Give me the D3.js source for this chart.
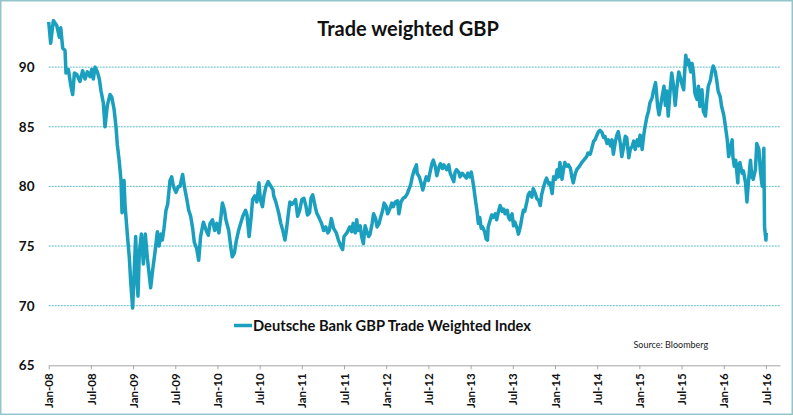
<!DOCTYPE html>
<html>
<head>
<meta charset="utf-8">
<script src="https://cdnjs.cloudflare.com/ajax/libs/d3/7.8.5/d3.min.js"></script>
<style>
  body {margin: 0; background: #fff;}
  svg {display: block; font-family: Lato, 'Open Sans', sans-serif;}
</style>
</head>
<body>
<svg id="chart" width="793" height="416"></svg>
<script>
// chart text
var title = 'Trade weighted GBP';
var seriesName = 'Deutsche Bank GBP Trade Weighted Index';
var source = 'Source: Bloomberg';

// axis ticks
var yTicks = [65, 70, 75, 80, 85, 90];
var xTickLabels = ['Jan-08', 'Jul-08', 'Jan-09', 'Jul-09', 'Jan-10', 'Jul-10', 'Jan-11', 'Jul-11', 'Jan-12',
  'Jul-12', 'Jan-13', 'Jul-13', 'Jan-14', 'Jul-14', 'Jan-15', 'Jul-15', 'Jan-16', 'Jul-16'];

// months since Jan-08
var months = [
  0, 0.28, 0.66, 1.14, 1.52, 1.71, 1.99, 2.32, 2.46, 2.8, 3.13, 3.41, 3.65, 3.98, 4.45, 4.83, 5.17, 5.5, 5.88,
  6.11, 6.35, 6.59, 6.92, 7.2, 7.44, 7.77, 8.01, 8.34, 8.72, 8.96, 9.29, 9.57, 9.76, 10.05, 10.28, 10.43, 10.71,
  10.85, 11.18, 11.47, 11.66, 11.94,
  12.18, 12.37, 12.56, 12.7, 12.89, 13.18, 13.46, 13.74, 14.03, 14.31, 14.5, 14.79, 15.12, 15.45, 15.69, 15.97,
  16.16, 16.4, 16.68, 16.92, 17.25, 17.49, 17.73, 18.1, 18.44, 18.67, 19.05, 19.29, 19.62, 19.91, 20.19, 20.47,
  20.71, 21.04, 21.33, 21.6, 22.0, 22.4, 22.7, 22.95, 23.3, 23.6, 23.9,
  24.2, 24.5, 24.7, 25.0, 25.2, 25.6, 25.9, 26.1, 26.4, 26.7, 27.0, 27.3, 27.6, 28.0, 28.2, 28.5, 28.8, 29.0,
  29.3, 29.6, 29.9, 30.1, 30.4, 30.6, 30.9, 31.2, 31.5, 31.9, 32.0, 32.3, 32.7, 33.0, 33.3, 33.6, 33.8, 34.1,
  34.3, 34.6, 34.9, 35.1, 35.4, 35.7,
  36.0, 36.3, 36.6, 36.8, 37.1, 37.3, 37.55, 37.9, 38.1, 38.5, 38.8, 39.1, 39.4, 39.7, 39.9, 40.2, 40.5, 40.9,
  41.2, 41.6, 41.8, 42.0, 42.4, 42.8, 43.1, 43.3, 43.6, 43.8, 44.0, 44.3, 44.5, 44.75, 45.0, 45.2, 45.5, 45.7,
  46.0, 46.2, 46.5, 46.7, 47.0, 47.2, 47.5, 47.7,
  48.0, 48.2, 48.5, 48.8, 49.0, 49.3, 49.6, 49.8, 50.1, 50.4, 50.7, 51.0, 51.2, 51.5, 51.7, 52.0, 52.3, 52.4,
  52.7, 53.0, 53.2, 53.5, 53.7, 54.0, 54.2, 54.5, 54.7, 55.0, 55.2, 55.5, 55.7, 56.0, 56.2, 56.4, 56.6, 56.9,
  57.1, 57.4, 57.6, 57.8, 58.0, 58.3, 58.5, 58.8, 59.1, 59.4, 59.6, 59.9,
  60.1, 60.3, 60.5, 60.7, 60.9, 61.1, 61.3, 61.5, 61.7, 62.0, 62.2, 62.4, 62.5, 62.8, 63.0, 63.2, 63.5, 63.7,
  64.0, 64.2, 64.5, 64.7, 64.9, 65.2, 65.4, 65.6, 65.9, 66.1, 66.3, 66.6, 66.8, 67.1, 67.3, 67.5, 67.7, 68.0,
  68.2, 68.4, 68.7, 68.9, 69.2, 69.4, 69.7, 69.9, 70.1, 70.4, 70.6, 70.8, 71.1, 71.3, 71.6, 71.8,
  72.1, 72.3, 72.5, 72.7, 73.0, 73.2, 73.4, 73.7, 73.9, 74.2, 74.4, 74.6, 74.9, 75.1, 75.5, 75.8, 76.1, 76.5,
  76.7, 77.0, 77.2, 77.5, 77.7, 77.9, 78.2, 78.4, 78.7, 78.9, 79.1, 79.4, 79.6, 79.9, 80.1, 80.3, 80.6, 80.8,
  81.0, 81.3, 81.5, 81.7, 82.0, 82.2, 82.5, 82.7, 83.0, 83.2, 83.4, 83.7, 83.9,
  84.1, 84.4, 84.6, 84.8, 85.1, 85.3, 85.5, 85.8, 86.0, 86.3, 86.4, 86.6, 86.8, 87.0, 87.2, 87.5, 87.7, 87.9,
  88.1, 88.4, 88.6, 88.8, 89.1, 89.3, 89.6, 89.8, 90.0, 90.3, 90.4, 90.6, 90.8, 91.0, 91.3, 91.5, 91.7, 91.9,
  92.2, 92.4, 92.6, 92.9, 93.1, 93.4, 93.6, 93.8, 94.1, 94.3, 94.5, 94.8, 95.0, 95.2, 95.5, 95.7,
  96.0, 96.2, 96.5, 96.7, 97.0, 97.2, 97.3, 97.5, 97.7, 98.0, 98.1, 98.3, 98.6, 98.8, 99.1, 99.3, 99.5, 99.8,
  100.0, 100.2, 100.5, 100.7, 101.0, 101.2, 101.4, 101.5, 101.7, 101.8, 102.0, 102.05
];

// index level
var values = [
  93.8, 92.0, 93.9, 93.5, 92.5, 93.3, 91.6, 91.4, 89.5, 89.8, 88.5, 87.7, 89.5, 89.4, 88.8, 89.7, 89.0, 89.6, 89.2,
  89.8, 89.0, 90.0, 89.6, 89.0, 88.0, 87.0, 85.0, 86.8, 87.7, 87.5, 86.5, 85.0, 83.5, 82.0, 80.5, 77.8, 80.5,
  78.5, 76.0, 74.0, 72.0, 69.8,
  73.2, 75.8, 72.0, 70.8, 74.5, 76.0, 73.5, 76.0, 74.0, 72.5, 71.5, 73.0, 74.5, 76.2, 75.0, 76.0,
  75.5, 76.5, 78.0, 78.5, 80.5, 80.8, 80.0, 79.5, 80.0, 80.0, 81.0, 80.0, 79.0, 78.0, 77.5, 76.5,
  75.3, 74.8, 73.8, 75.8, 77.0, 76.3, 75.9, 76.9, 77.2, 76.3, 76.9,
  76.1, 77.5, 78.6, 78.0, 77.2, 76.3, 74.9, 74.1, 74.4, 75.5, 76.3, 76.9, 77.5, 78.0, 77.6, 75.8, 77.5, 78.9,
  79.2, 78.7, 80.3, 78.9, 78.3, 79.2, 80.0, 80.4, 80.1, 79.7, 79.2, 78.7, 77.8, 76.9, 76.3, 75.5, 76.3, 77.8,
  78.7, 78.5, 78.7, 78.9, 77.5, 78.0,
  78.9, 79.0, 78.3, 77.6, 77.8, 79.0, 79.3, 78.3, 77.8, 77.3, 76.9, 76.3, 76.6, 76.1, 76.3, 77.3, 76.5, 76.1,
  75.5, 74.9, 74.7, 75.8, 76.1, 76.6, 76.2, 76.9, 76.1, 77.2, 76.3, 76.7, 75.8, 75.2, 76.7, 76.3, 75.8, 76.0,
  76.9, 77.7, 77.3, 76.6, 76.9, 77.4, 78.0, 78.6,
  78.3, 77.7, 78.1, 78.6, 78.3, 78.7, 78.8, 77.7, 78.7, 79.0, 79.1, 79.4, 79.7, 80.2, 80.8, 81.4, 81.8, 81.1,
  80.8, 80.2, 79.7, 80.4, 80.8, 80.5, 81.1, 81.9, 82.2, 81.6, 80.9, 81.6, 81.9, 81.5, 81.8, 81.6, 81.4, 81.8,
  81.1, 80.7, 80.4, 81.2, 81.4, 81.2, 80.8, 81.1, 80.9, 80.7, 81.1, 80.8,
  81.2, 80.5, 79.7, 78.8, 78.0, 76.9, 77.4, 76.5, 76.6, 76.2, 75.6, 75.5, 76.6, 77.2, 77.6, 77.4, 77.7, 77.2,
  78.0, 78.4, 77.9, 78.1, 77.7, 78.0, 77.4, 77.2, 77.7, 76.7, 77.0, 76.5, 76.0, 76.7, 77.4, 78.0, 77.9, 78.7,
  79.3, 79.5, 79.1, 79.8, 79.4, 79.0, 78.8, 78.4, 79.3, 80.0, 80.4, 80.7, 80.2, 80.3, 79.4, 80.8,
  80.6, 81.4, 80.8, 82.0, 80.6, 81.4, 82.0, 81.7, 81.8, 81.5, 80.8, 80.3, 81.1, 81.4, 81.7, 82.0, 82.2, 82.5,
  82.8, 82.7, 83.1, 83.8, 83.9, 84.2, 84.6, 84.7, 84.5, 84.1, 84.2, 83.6, 83.9, 83.4, 83.9, 82.7, 83.8, 84.3,
  84.6, 83.6, 82.5, 83.1, 84.2, 84.1, 82.4, 83.1, 83.4, 83.8, 83.1, 83.9, 83.4,
  84.3, 83.1, 84.2, 85.0, 85.9, 86.3, 87.0, 87.4, 88.0, 88.7, 88.1, 86.7, 86.0, 86.7, 87.4, 88.4, 86.8, 88.0,
  85.9, 88.2, 89.5, 88.7, 86.8, 88.1, 89.6, 89.2, 88.7, 88.1, 89.2, 91.0, 90.2, 90.6, 89.6, 90.3, 89.5, 87.8,
  87.3, 88.4, 86.7, 88.1, 86.3, 85.9, 87.3, 88.4, 88.9, 89.6, 90.1, 89.6, 88.9, 88.0, 87.5, 86.7,
  86.0, 85.2, 83.9, 82.5, 83.4, 83.9, 82.5, 81.7, 82.2, 80.3, 81.8, 82.0, 81.1, 81.3, 80.3, 78.7, 80.3, 82.2,
  80.8, 80.6, 81.4, 83.6, 83.1, 81.4, 80.3, 80.0, 83.2, 76.6, 75.5, 76.1
];

var data = months.map(function(m, i) { return {m: m, v: values[i]}; });

var lineColour = '#1b9fbf';
var gridColour = '#5fb9c6';

var svg = d3.select('#chart');

// frame round the whole picture
svg.append('rect')
  .attr('x', 0.75).attr('y', 0.75)
  .attr('width', 791.5).attr('height', 413.5)
  .attr('fill', 'white')
  .attr('stroke', '#93c5cb')
  .attr('stroke-width', 1.5);

// scales
var x = d3.scaleLinear().domain([0, 104]).range([48.7, 780]);
var y = d3.scaleLinear().domain([65, 95]).range([365.3, 7.5]);

// gridlines (not at 65, that one is the axis)
svg.append('g')
  .selectAll('line')
  .data(yTicks.filter(function(d) { return d > 65; }))
  .enter().append('line')
  .attr('x1', x(0)).attr('x2', x(104))
  .attr('y1', function(d) { return y(d); })
  .attr('y2', function(d) { return y(d); })
  .attr('stroke', gridColour)
  .attr('stroke-width', 1)
  .attr('stroke-dasharray', '2,1');

// y labels
svg.append('g')
  .selectAll('text')
  .data(yTicks)
  .enter().append('text')
  .attr('x', 34.5)
  .attr('y', function(d) { return y(d); })
  .attr('dy', '0.36em')
  .attr('text-anchor', 'end')
  .style('font-size', '13.5px')
  .style('font-weight', 'bold')
  .style('fill', '#111')
  .text(function(d) { return d; });

// x axis
var xAxis = d3.axisBottom(x)
  .tickValues(d3.range(0, 103, 6))
  .tickFormat(function(d, i) { return xTickLabels[i]; })
  .tickSize(4)
  .tickSizeOuter(0);

var gx = svg.append('g')
  .attr('transform', 'translate(0,' + y(65) + ')')
  .call(xAxis);
gx.select('.domain').attr('stroke', '#a6a6a6');
gx.selectAll('.tick line').attr('stroke', '#a6a6a6');
gx.selectAll('.tick text')
  .attr('transform', 'rotate(-90)')
  .attr('x', -8)
  .attr('y', 0)
  .attr('dy', '0.36em')
  .style('text-anchor', 'end')
  .style('font-family', "Lato, 'Open Sans', sans-serif")
  .style('font-size', '11.5px')
  .style('font-weight', 'bold')
  .style('fill', '#111');

// the series
var line = d3.line()
  .x(function(d) { return x(d.m); })
  .y(function(d) { return y(d.v); });

svg.append('path')
  .datum(data)
  .attr('d', line)
  .attr('fill', 'none')
  .attr('stroke', lineColour)
  .attr('stroke-width', 3.5)
  .attr('stroke-linejoin', 'round');

// title
svg.append('text')
  .attr('x', 408)
  .attr('y', 36)
  .attr('text-anchor', 'middle')
  .style('font-size', '20px')
  .style('font-weight', 'bold')
  .style('fill', '#111')
  .text(title);

// legend
svg.append('line')
  .attr('x1', 234).attr('x2', 252)
  .attr('y1', 325.5).attr('y2', 325.5)
  .attr('stroke', lineColour)
  .attr('stroke-width', 3.5);
svg.append('text')
  .attr('x', 253)
  .attr('y', 330.5)
  .style('font-size', '14.7px')
  .style('font-weight', 'bold')
  .style('fill', '#111')
  .text(seriesName);

// source note
svg.append('text')
  .attr('x', 633.5)
  .attr('y', 348)
  .style('font-size', '9px')
  .style('fill', '#222')
  .text(source);
</script>
</body>
</html>
